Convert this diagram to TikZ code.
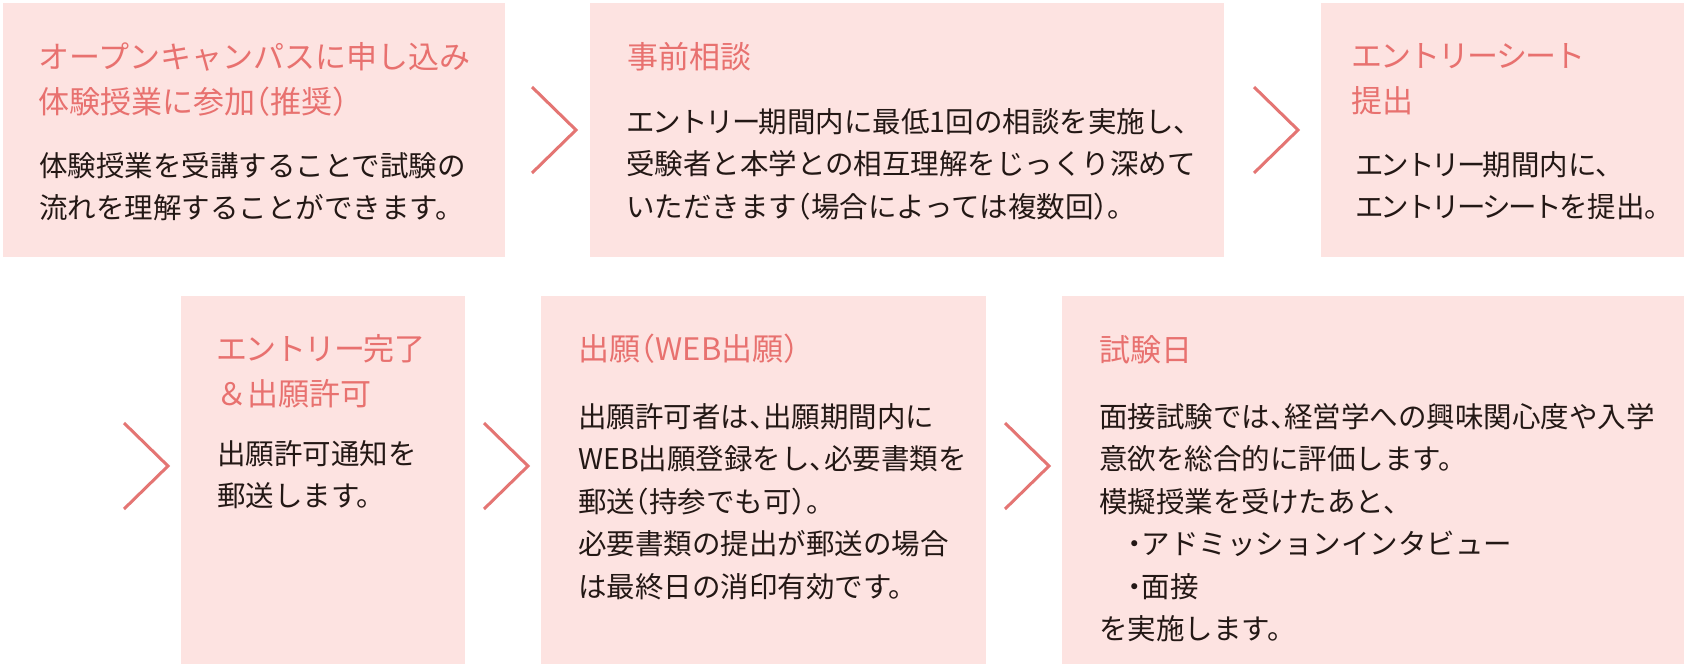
\documentclass[tikz,border=0pt]{standalone}
\usepackage{fontspec}
\setmainfont{Noto Sans CJK JP}
\definecolor{boxfill}{HTML}{FDE3E1}
\definecolor{titlecol}{HTML}{E8716F}
\definecolor{chevcol}{HTML}{E47573}
\definecolor{bodycol}{HTML}{231815}
\newlength\kk
\newcommand{\hcomma}{\makebox[0.5em][l]{、}}
\newcommand{\hop}{\makebox[0.5em][r]{（}}
\newcommand{\hcl}{\makebox[0.5em][l]{）}}
\newcommand{\bul}{\hspace*{1em}\makebox[0.5em]{・}}
\newcommand{\ENT}{エ\kern\kk ン\kern\kk ト\kern\kk リ\kern\kk ー\kern\kk}
\newcommand{\SHT}{シ\kern\kk ー\kern\kk ト\kern\kk}
\tikzset{
  stepbox/.style={fill=boxfill, draw=none, rectangle, inner sep=0pt, anchor=north west},
  ttl/.style={anchor=base west, inner sep=0pt, text=titlecol, font=\fontsize{31}{45}\selectfont},
  bdy/.style={anchor=base west, inner sep=0pt, text=bodycol, font=\fontsize{28.5}{42.5}\selectfont},
  chev/.style={draw=chevcol, line width=3pt, line cap=butt, line join=miter}
}
\newcommand{\lines}[1]{\begin{tabular}[t]{@{}l@{}}#1\end{tabular}}
\begin{document}
\begin{tikzpicture}[x=1pt, y=-1pt]
\useasboundingbox (0,0) rectangle (1684,664);
\fill[white] (0,0) rectangle (1684,664);
% boxes
\node[stepbox, minimum width=502pt, minimum height=254pt] (b1) at (3,3) {};
\node[stepbox, minimum width=634pt, minimum height=254pt] (b2) at (590,3) {};
\node[stepbox, minimum width=363pt, minimum height=254pt] (b3) at (1321,3) {};
\node[stepbox, minimum width=284pt, minimum height=368pt] (b4) at (181,296) {};
\node[stepbox, minimum width=445pt, minimum height=368pt] (b5) at (541,296) {};
\node[stepbox, minimum width=622pt, minimum height=368pt] (b6) at (1062,296) {};
% chevrons
\draw[chev] (532,87) -- (576,130) -- (532,173);
\draw[chev] (1254,87) -- (1298,130) -- (1254,173);
\draw[chev] (124,423) -- (168,466) -- (124,509);
\draw[chev] (484,423) -- (528,466) -- (484,509);
\draw[chev] (1005,423) -- (1049,466) -- (1005,509);
% box 1
\node[ttl] (t1) at (38,68) {\lines{オープンキャンパスに申し込み\\体験授業に参加\hop 推奨\hcl}};
\node[bdy] (d1) at (39,176) {\lines{体験授業を受講することで試験の\\流れを理解することができます。}};
% box 2
\node[ttl] (t2) at (627,68) {\lines{事前相談}};
\node[bdy] (d2) at (626,132) {\setlength\kk{-2pt}\lines{\ENT 期間内に最低1回の相談を実施し、\\受験者と本学との相互理解をじっくり深めて\\いただきます\hop 場合によっては複数回\hcl 。}};
% box 3
\node[ttl] (t3) at (1351,67) {\setlength\kk{-2pt}\lines{\ENT\SHT\\提出}};
\node[bdy] (d3) at (1355,175) {\setlength\kk{-3pt}\lines{\ENT 期間内に、\\\ENT\SHT を提出。}};
% box 4
\node[ttl] (t4) at (216,360) {\setlength\kk{-1.5pt}\lines{\ENT 完了\\＆出願許可}};
\node[bdy] (d4) at (217,464) {\lines{出願許可通知を\\郵送します。}};
% box 5
\node[ttl] (t5) at (578,360) {\lines{出願\hop WEB出願\hcl}};
\node[bdy] (d5) at (578,427) {\lines{出願許可者は\hcomma 出願期間内に\\WEB出願登録をし\hcomma 必要書類を\\郵送\hop 持参でも可\hcl 。\\必要書類の提出が郵送の場合\\は最終日の消印有効です。}};
% box 6
\node[ttl] (t6) at (1099,361) {\lines{試験日}};
\node[bdy] (d6) at (1099,427) {\lines{面接試験では\hcomma 経営学への興味関心度や入学\\意欲を総合的に評価します。\\模擬授業を受けたあと、\\\bul アドミッションインタビュー\\\bul 面接\\を実施します。}};
\end{tikzpicture}
\end{document}
